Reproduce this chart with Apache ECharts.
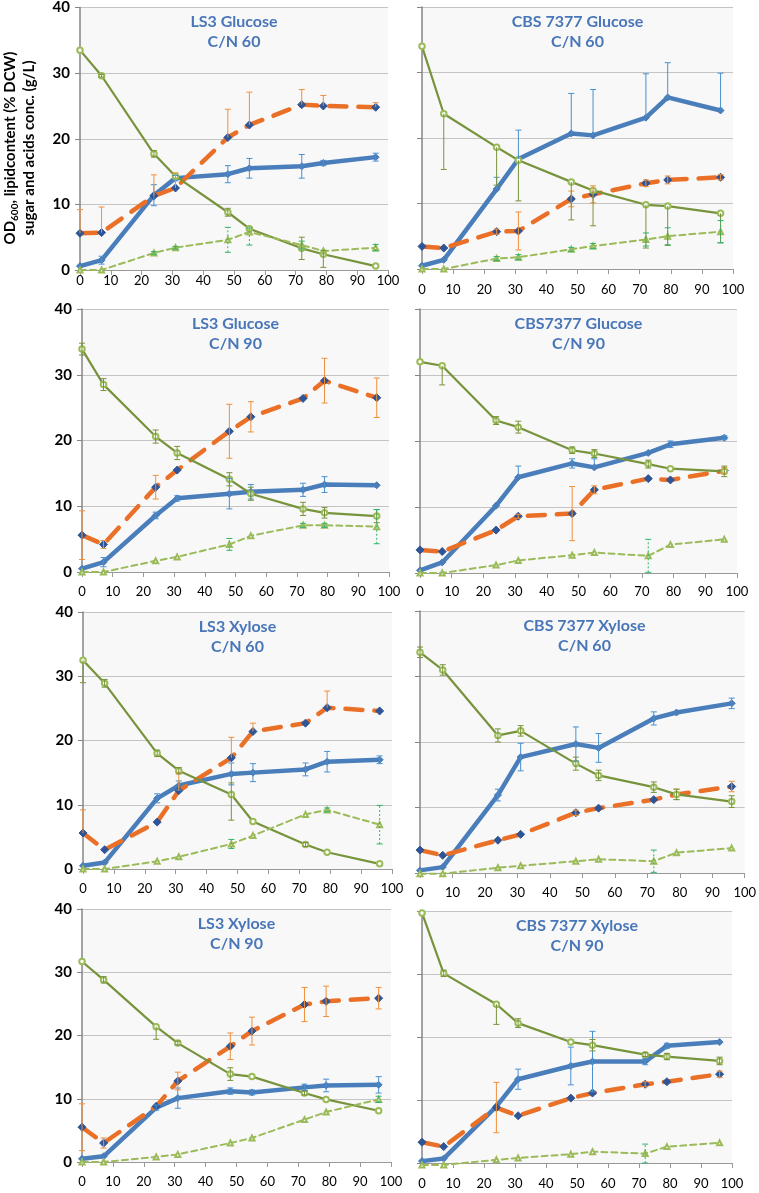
<!DOCTYPE html>
<html><head><meta charset="utf-8">
<script src="https://cdn.jsdelivr.net/npm/echarts@6/dist/echarts.min.js"></script>
<style>html,body{margin:0;padding:0;background:#fff}#c{width:759px;height:1193px}</style>
</head><body><div id="c"></div>
<script>
// ---------- DATA ----------
const hours = [0, 7, 24, 31, 48, 55, 72, 79, 96];
const seriesNames = ['OD600', 'Lipid content (% DCW)', 'Sugar (g/L)', 'Acids (g/L)'];
const panelTitles = [
  ['LS3 Glucose', 'C/N 60'], ['CBS 7377 Glucose', 'C/N 60'],
  ['LS3 Glucose', 'C/N 90'], ['CBS7377 Glucose', 'C/N 90'],
  ['LS3 Xylose', 'C/N 60'], ['CBS 7377 Xylose', 'C/N 60'],
  ['LS3 Xylose', 'C/N 90'], ['CBS 7377 Xylose', 'C/N 90']
];
// error entries: number = ±, [minus, plus], null = none
const p1Od = [0.6, 1.5, 11.4, 14.0, 14.6, 15.5, 15.8, 16.3, 17.2];
const p1OdErr = [null, 0.6, 1.6, 0.4, 1.3, 1.5, 1.8, 0.4, 0.6];
const p1Lipid = [5.6, 5.7, 11.3, 12.5, 20.2, 22.1, 25.2, 25.0, 24.8];
const p1LipidErr = [[0, 3.6], [0, 3.9], [0, 3.2], [0, 2.3], [0, 4.3], [0, 5.0], [0, 2.3], [0, 1.6], [0, 0.7]];
const p1Sugar = [33.5, 29.6, 17.7, 14.3, 8.8, 6.3, 3.3, 2.4, 0.6];
const p1SugarErr = [null, 0.2, 0.5, null, 0.6, null, 1.7, [2.0, 0.6], null];
const p1Acid = [0, 0, 2.6, 3.4, 4.6, 5.8, 3.8, 2.9, 3.4];
const p1AcidErr = [null, null, 0.2, 0.2, 1.9, [2.0, 0.6], 0.6, null, 0.5];

const p2Od = [0.5, 1.4, 12.2, 16.8, 20.7, 20.4, 23.1, 26.2, 24.2];
const p2OdErr = [null, null, [0, 1.8], [0, 4.4], [0, 6.1], [0, 7.0], [0, 6.7], [0, 5.3], [0, 5.7]];
const p2Lipid = [3.45, 3.2, 5.7, 5.8, 10.7, 11.4, 13.1, 13.6, 14.0];
const p2LipidErr = [null, null, 0.4, 2.9, 1.2, 1.3, 0.5, 0.6, 0.4];
const p2Sugar = [34.0, 23.7, 18.6, 16.6, 13.3, 12.0, 9.8, 9.6, 8.5];
const p2SugarErr = [null, [8.5, 0], [5.8, 0], [6.2, 0], [5.8, 0], [5.4, 0], [6.6, 0], [6.0, 0], [4.5, 0]];
const p2Acid = [0, 0, 1.6, 1.8, 3.0, 3.5, 4.5, 5.0, 5.7];
const p2AcidErr = [null, null, 0.3, 0.4, 0.3, 0.4, 1.0, 1.3, 1.7];

const p3Od = [0.5, 1.5, 8.6, 11.2, 11.9, 12.2, 12.5, 13.3, 13.2];
const p3OdErr = [null, 0.7, 0.5, 0.4, 2.3, 1.1, 1.0, 1.2, null];
const p3Lipid = [5.6, 4.2, 12.9, 15.5, 21.4, 23.6, 26.4, 29.1, 26.5];
const p3LipidErr = [3.7, 0.6, 1.8, null, 4.1, 2.3, null, 3.4, 3.0];
const p3Sugar = [33.9, 28.5, 20.6, 18.1, 14.1, 11.9, 9.6, 9.0, 8.5];
const p3SugarErr = [0.9, 0.9, 1.0, 1.0, 1.0, 1.0, 1.0, 0.8, 1.0];
const p3Acid = [0, 0, 1.7, 2.3, 4.2, 5.5, 7.1, 7.1, 6.9];
const p3AcidErr = [null, null, null, null, 0.9, null, 0.3, 0.3, 2.6];

const p4Od = [0.4, 1.6, 10.2, 14.5, 16.6, 16.0, 18.2, 19.5, 20.5];
const p4OdErr = [null, null, null, [0, 1.7], 0.7, [0, 1.3], null, 0.5, 0.3];
const p4Lipid = [3.5, 3.25, 6.5, 8.6, 9.0, 12.6, 14.3, 14.1, 15.5];
const p4LipidErr = [null, null, null, 0.3, 4.1, 0.6, null, null, 0.5];
const p4Sugar = [32.0, 31.4, 23.1, 22.1, 18.6, 18.1, 16.5, 15.8, 15.4];
const p4SugarErr = [null, [2.9, 0], 0.6, 0.9, 0.5, 0.6, 0.6, null, 0.8];
const p4Acid = [0, 0, 1.2, 1.9, 2.7, 3.1, 2.6, 4.3, 5.1];
const p4AcidErr = [null, null, null, null, null, null, 2.5, null, null];

const p5Od = [0.5, 1.0, 11.0, 13.0, 14.8, 15.0, 15.5, 16.7, 17.0];
const p5OdErr = [null, null, 0.7, 0.7, 1.7, 1.4, 1.0, 1.6, 0.6];
const p5Lipid = [5.6, 3.0, 7.3, 12.2, 17.3, 21.4, 22.7, 25.1, 24.6];
const p5LipidErr = [[0, 3.6], null, null, [0, 2.8], [0, 3.2], [0, 1.3], null, [0, 2.6], null];
const p5Sugar = [32.5, 28.9, 18.0, 15.3, 11.6, 7.4, 3.8, 2.6, 0.8];
const p5SugarErr = [[3.5, 0], 0.6, 0.5, 0.5, [4.0, 1.8], null, 0.3, null, null];
const p5Acid = [0, 0, 1.2, 1.9, 3.9, 5.2, 8.5, 9.2, 6.9];
const p5AcidErr = [null, null, null, null, 0.7, null, null, 0.3, 3.0];

const p6Od = [0.4, 0.9, 11.9, 17.7, 19.7, 19.1, 23.6, 24.5, 25.9];
const p6OdErr = [null, null, 0.9, 2.1, 2.6, 2.2, 1.0, null, 0.8];
const p6Lipid = [3.5, 2.7, 5.0, 5.9, 9.2, 9.9, 11.2, 12.0, 13.2];
const p6LipidErr = [null, null, null, null, 0.4, null, null, 0.8, 0.8];
const p6Sugar = [33.7, 31.0, 21.0, 21.7, 16.7, 14.9, 13.1, 12.0, 10.9];
const p6SugarErr = [0.8, 0.8, 1.0, 0.8, 1.0, 0.8, 0.8, 0.8, 0.9];
const p6Acid = [-0.1, -0.1, 0.8, 1.1, 1.8, 2.1, 1.8, 3.1, 3.8];
const p6AcidErr = [null, null, null, null, null, null, 1.7, null, null];

const p7Od = [0.5, 0.9, 8.6, 10.1, 11.2, 11.0, 11.8, 12.1, 12.2];
const p7OdErr = [null, null, 0.4, 1.6, 0.5, 0.4, 0.5, 1.0, 1.3];
const p7Lipid = [5.5, 3.0, 8.8, 12.8, 18.3, 20.7, 24.9, 25.4, 25.9];
const p7LipidErr = [3.7, 0.8, null, 1.4, 2.1, 2.2, 2.7, 2.4, 1.7];
const p7Sugar = [31.7, 28.8, 21.4, 18.8, 13.9, 13.5, 10.9, 9.9, 8.1];
const p7SugarErr = [null, 0.5, [2.0, 0], 0.3, 1.0, null, 0.3, null, null];
const p7Acid = [0, 0, 0.8, 1.2, 3.0, 3.8, 6.7, 7.9, 9.9];
const p7AcidErr = [null, null, null, null, null, null, null, null, 0.5];

const p8Od = [0.3, 0.7, 9.0, 13.3, 15.4, 16.1, 16.1, 18.6, 19.2];
const p8OdErr = [null, null, null, 1.6, 3.0, 4.8, 0.5, 0.4, null];
const p8Lipid = [3.3, 2.6, 8.8, 7.5, 10.3, 11.1, 12.5, 12.9, 14.1];
const p8LipidErr = [null, null, 4.0, null, null, null, 0.4, null, 0.5];
const p8Sugar = [39.7, 30.1, 25.2, 22.2, 19.2, 18.7, 17.2, 16.9, 16.2];
const p8SugarErr = [null, 0.5, [3.2, 0], 0.7, null, 0.9, 0.3, 0.5, 0.6];
const p8Acid = [-0.3, -0.3, 0.5, 0.8, 1.4, 1.8, 1.5, 2.6, 3.2];
const p8AcidErr = [null, null, null, null, null, null, 1.5, null, null];

// ---------- BUILD ----------
const panels = [
  [p1Od, p1OdErr, p1Lipid, p1LipidErr, p1Sugar, p1SugarErr, p1Acid, p1AcidErr],
  [p2Od, p2OdErr, p2Lipid, p2LipidErr, p2Sugar, p2SugarErr, p2Acid, p2AcidErr],
  [p3Od, p3OdErr, p3Lipid, p3LipidErr, p3Sugar, p3SugarErr, p3Acid, p3AcidErr],
  [p4Od, p4OdErr, p4Lipid, p4LipidErr, p4Sugar, p4SugarErr, p4Acid, p4AcidErr],
  [p5Od, p5OdErr, p5Lipid, p5LipidErr, p5Sugar, p5SugarErr, p5Acid, p5AcidErr],
  [p6Od, p6OdErr, p6Lipid, p6LipidErr, p6Sugar, p6SugarErr, p6Acid, p6AcidErr],
  [p7Od, p7OdErr, p7Lipid, p7LipidErr, p7Sugar, p7SugarErr, p7Acid, p7AcidErr],
  [p8Od, p8OdErr, p8Lipid, p8LipidErr, p8Sugar, p8SugarErr, p8Acid, p8AcidErr]
];
const layout = [
  {left: 80, top: 7, width: 308, height: 263, lm: 4},
  {left: 422, top: 7, width: 311, height: 262, lm: 14},
  {left: 82, top: 309, width: 307, height: 263, lm: 13},
  {left: 420, top: 309, width: 317, height: 264, lm: 12},
  {left: 83, top: 612, width: 309, height: 257, lm: 13},
  {left: 420, top: 611, width: 329, height: 262, lm: 13},
  {left: 82, top: 909, width: 309, height: 253, lm: 13},
  {left: 422, top: 911, width: 310, height: 252, lm: 14}
];
const FONT = 'Lato, "Open Sans", sans-serif';
const styles = [
  {line: '#4a7ebb', width: 4.5, dash: 'solid', sym: 'diamond', size: 7, symColor: '#4a7ebb', err: '#4a90d0'},
  {line: '#ea7027', width: 4.5, dash: [17, 12], sym: 'diamond', size: 8, symColor: '#2f5597', err: '#f0903c'},
  {line: '#77933c', width: 2.2, dash: 'solid', sym: 'emptyCircle', size: 5.5, symColor: '#9bbb59', err: '#77933c'},
  {line: '#9bbb59', width: 2, dash: [6, 4], sym: 'emptyTriangle', size: 5, symColor: '#9bbb59', err: '#2fb36a', dotted: true}
];

const grids = [], xAxes = [], yAxes = [], series = [], graphics = [];
layout.forEach((L, gi) => {
  grids.push({left: L.left, top: L.top, width: L.width, height: L.height, show: true,
    backgroundColor: '#f8f8f8', borderWidth: 0, containLabel: false});
  xAxes.push({gridIndex: gi, type: 'value', min: 0, max: 100, interval: 10,
    axisLine: {lineStyle: {color: '#999', width: 1}},
    axisTick: {show: true, length: 5, lineStyle: {color: '#999'}},
    splitLine: {show: false},
    axisLabel: {margin: L.lm, fontFamily: FONT, fontSize: 13, color: '#000'}});
  const leftCol = gi % 2 === 0;
  yAxes.push({gridIndex: gi, type: 'value', min: 0, max: 40, interval: 10,
    axisLine: {show: true, lineStyle: {color: '#868686', width: 1.5}},
    axisTick: {show: true, length: 5, lineStyle: {color: '#868686'}},
    splitLine: {show: true, lineStyle: {color: '#c4c4c4', width: 1}},
    axisLabel: {show: leftCol, margin: 10, fontFamily: FONT, fontSize: 15, fontWeight: 'bold', color: '#000'}});
  const P = panels[gi];
  for (let s = 0; s < 4; s++) {
    const st = styles[s];
    const vals = P[s * 2], errs = P[s * 2 + 1];
    series.push({type: 'line', name: seriesNames[s], xAxisIndex: gi, yAxisIndex: gi,
      data: hours.map((h, i) => [h, vals[i]]), clip: false, z: 2 + s,
      lineStyle: {color: st.line, width: st.width, type: st.dash, cap: 'round', join: 'round'},
      symbol: st.sym, symbolSize: st.size, showSymbol: true,
      itemStyle: {color: st.symColor, borderColor: st.symColor, borderWidth: 1},
      emphasis: {disabled: true}, silent: true, animation: false});
    const ed = [];
    vals.forEach((v, i) => {
      const e = errs[i];
      if (e == null) return;
      const m = Array.isArray(e) ? e[0] : e, p = Array.isArray(e) ? e[1] : e;
      ed.push([hours[i], v - m, v + p, m > 0 ? 1 : 0, p > 0 ? 1 : 0]);
    });
    series.push({type: 'custom', xAxisIndex: gi, yAxisIndex: gi, data: ed, z: 10, silent: true,
      animation: false, clip: false, encode: {x: 0, y: [1, 2]},
      renderItem: (params, api) => {
        const x = api.value(0);
        const lo = api.coord([x, api.value(1)]), hi = api.coord([x, api.value(2)]);
        const hw = 3;
        const sty = {stroke: st.err, lineWidth: 1, lineDash: st.dotted ? [2, 2] : null};
        const ch = [{type: 'line', shape: {x1: lo[0], y1: lo[1], x2: hi[0], y2: hi[1]}, style: sty}];
        if (api.value(3)) ch.push({type: 'line', shape: {x1: lo[0] - hw, y1: lo[1], x2: lo[0] + hw, y2: lo[1]}, style: {stroke: st.err, lineWidth: 1}});
        if (api.value(4)) ch.push({type: 'line', shape: {x1: hi[0] - hw, y1: hi[1], x2: hi[0] + hw, y2: hi[1]}, style: {stroke: st.err, lineWidth: 1}});
        return {type: 'group', children: ch};
      }});
  }
  const cx = L.left + L.width / 2;
  graphics.push({type: 'text', x: cx, y: L.top + 14.5, silent: true, z: 20,
    style: {text: panelTitles[gi][0], textAlign: 'center', textVerticalAlign: 'middle', verticalAlign: 'middle',
      fill: '#4876b8', font: 'bold 16px ' + FONT}});
  graphics.push({type: 'text', x: cx, y: L.top + 35, silent: true, z: 20,
    style: {text: panelTitles[gi][1], textAlign: 'center', textVerticalAlign: 'middle', verticalAlign: 'middle',
      fill: '#4876b8', font: 'bold 16px ' + FONT}});
});

graphics.push({type: 'text', x: 20, y: 148, rotation: Math.PI / 2, silent: true,
  style: {text: '{a|OD}{s|600}{a|, lipidcontent (% DCW)}\n{a|sugar and acids conc. (g/L)}',
    textAlign: 'center', textVerticalAlign: 'middle', verticalAlign: 'middle', fill: '#000',
    rich: {
      a: {fontFamily: FONT, fontSize: 15, fontWeight: 'bold', lineHeight: 19, fill: '#000', color: '#000'},
      s: {fontFamily: FONT, fontSize: 10, fontWeight: 'bold', lineHeight: 19, verticalAlign: 'bottom', fill: '#000', color: '#000'}
    }}});

const chart = echarts.init(document.getElementById('c'), null, {renderer: 'canvas'});
chart.setOption({animation: false, backgroundColor: '#fff', grid: grids, xAxis: xAxes, yAxis: yAxes, series, graphic: graphics});
</script></body></html>
